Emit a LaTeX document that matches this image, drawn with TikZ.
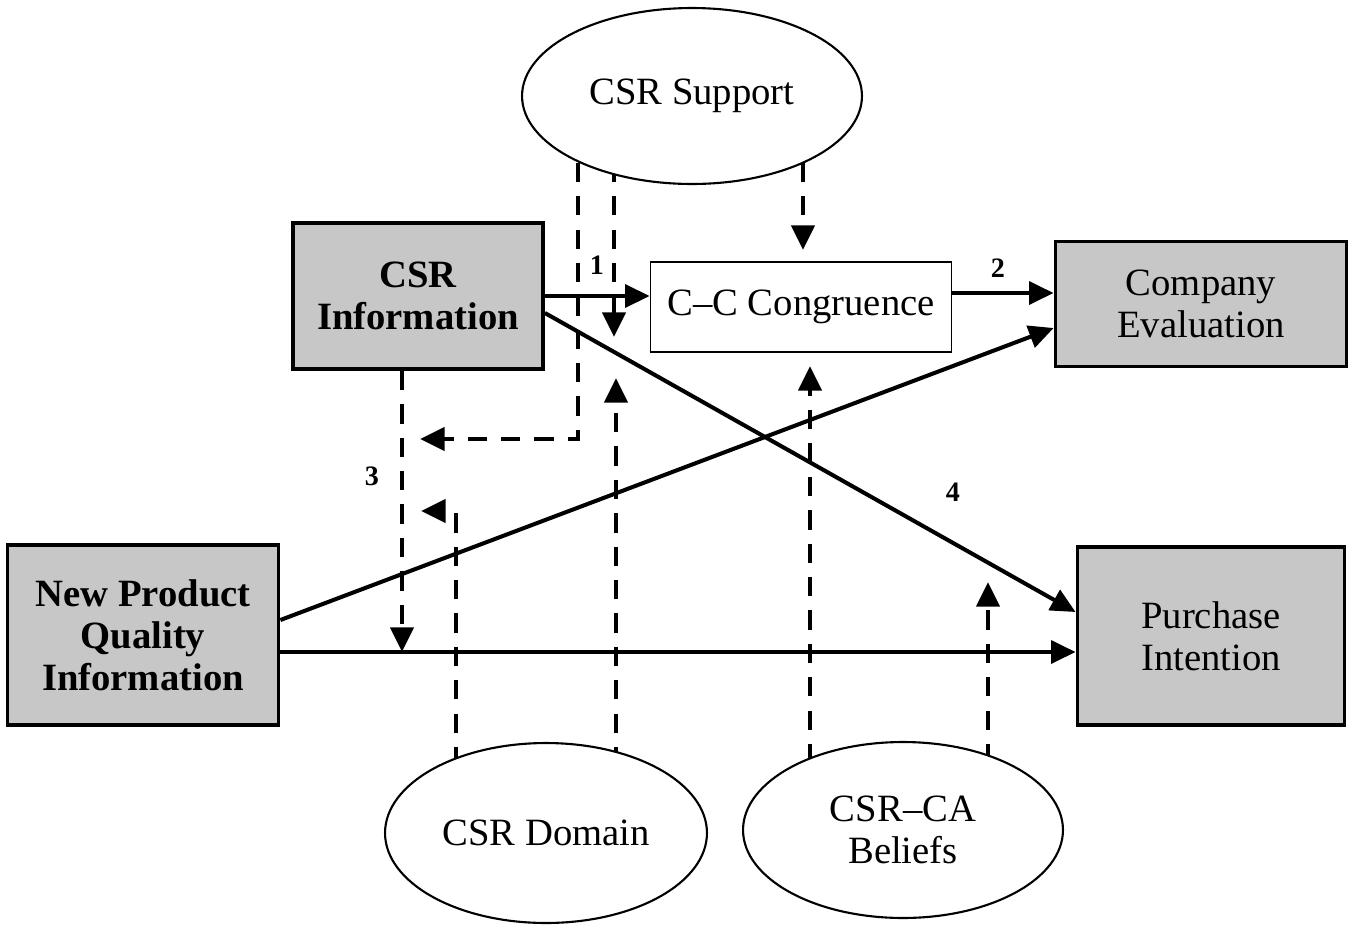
\documentclass[tikz,border=0pt]{standalone}
\usepackage{fontspec}
\setmainfont{Liberation Serif}
\usetikzlibrary{shapes.geometric,arrows.meta,calc,backgrounds}
\begin{document}
\begin{tikzpicture}[x=0.02cm,y=-0.02cm,
  txt/.style={font=\fontsize{22}{24}\selectfont, align=center, inner sep=0pt},
  shadebox/.style={txt, draw, line width=2.2pt, fill=black!22},
  plainbox/.style={txt, draw, line width=1pt, fill=white},
  ell/.style={txt, ellipse, draw, line width=1.2pt, fill=white},
  lbl/.style={font=\fontsize{16}{18}\selectfont\bfseries, inner sep=0pt},
  arr/.style={line width=2.3pt, -{Triangle[length=14pt,width=13pt]}},
  darr/.style={line width=2.5pt, dash pattern=on 11pt off 8pt, -{Triangle[length=14pt,width=13pt]}}
]
\useasboundingbox (0,0) rectangle (1353,924);

% nodes
\node[shadebox, font=\fontsize{22}{24}\selectfont\bfseries, minimum width=5cm, minimum height=2.92cm] (csr) at (418,296) {CSR\\Information};
\node[plainbox, minimum width=6.02cm, minimum height=1.8cm] (cc) at (801,307) {C--C Congruence};
\node[shadebox, minimum width=5.82cm, minimum height=2.5cm] (ce) at (1201,304) {Company\\Evaluation};
\node[shadebox, minimum width=5.34cm, minimum height=3.56cm] (pi) at (1211,636) {Purchase\\Intention};
\node[shadebox, font=\fontsize{22}{24}\selectfont\bfseries, minimum width=5.42cm, minimum height=3.6cm] (npq) at (143,635) {New Product\\Quality\\Information};
\node[ell, minimum width=6.8cm, minimum height=3.52cm] (sup) at (692,96) {CSR Support};
\node[ell, minimum width=6.44cm, minimum height=3.6cm] (dom) at (546,833) {CSR Domain};
\node[ell, minimum width=6.4cm, minimum height=3.52cm] (bel) at (903,830) {CSR--CA\\Beliefs};

% free ends of moderating arrows
\coordinate (t1) at (420,439);
\coordinate (t2) at (614,337);
\coordinate (t3) at (803,250);
\coordinate (t4) at (402,652);
\coordinate (t5) at (421,511);
\coordinate (t6) at (616,378);
\coordinate (t7) at (810,366);
\coordinate (t8) at (988,582);

\begin{scope}[on background layer]
\fill[white] (0,0) rectangle (1353,924);
% solid paths
\draw[arr] (csr.east) -- (csr.east -| cc.west);
\draw[arr] ($(cc.east)+(0,-14)$) -- ($(ce.west)+(0,-11)$);
\draw[arr] ($(csr.east)+(0,17)$) -- ($(pi.west)+(0,-24)$);
\draw[arr] ($(npq.east)+(0,-15)$) -- ($(ce.west)+(0,24)$);
\draw[arr] ($(npq.east)+(0,17)$) -- ($(pi.west)+(0,16)$);
% dashed moderators
\draw[darr] (sup.center -| 578,0) |- (t1);
\draw[darr] (sup.center -| t2) -- (t2);
\draw[darr] (sup.center -| t3) -- (t3);
\draw[darr] ($(csr.south)+(-16,0)$) -- (t4);
\draw[darr] (dom.center -| 456,0) |- (t5);
\draw[darr] (dom.center -| t6) -- (t6);
\draw[darr] (bel.center -| t7) -- (t7);
\draw[darr] (bel.center -| t8) -- (t8);
\end{scope}

% path labels
\node[lbl] (l1) at (597,265) {1};
\node[lbl] (l2) at (998,268) {2};
\node[lbl] (l3) at (372,476) {3};
\node[lbl] (l4) at (953,492) {4};
\end{tikzpicture}
\end{document}
